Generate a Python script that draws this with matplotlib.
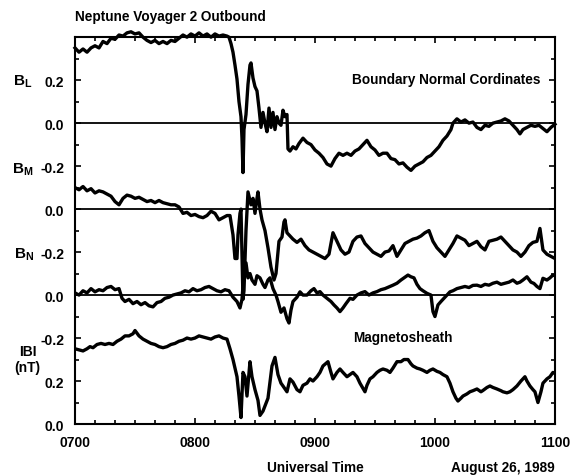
import numpy as np
import matplotlib.pyplot as plt
from matplotlib.ticker import MultipleLocator, FixedLocator

plt.rcParams['font.family'] = 'Liberation Sans'
plt.rcParams['font.weight'] = 'bold'
plt.rcParams['mathtext.fontset'] = 'custom'
plt.rcParams['mathtext.rm'] = 'Liberation Sans:bold'
plt.rcParams['mathtext.bf'] = 'Liberation Sans:bold'

# minutes after 0700 UT, values in nT
bl_min = [0, 2, 4, 6, 8, 10, 12, 14, 16, 18, 20, 22, 24, 26, 28, 30, 32, 34, 36, 38,
          40, 42, 44, 46, 48, 50, 52, 54, 56, 58, 60, 62, 64, 66, 68, 70, 72, 74, 76, 77,
          78, 79, 80, 81, 82, 83, 83.5, 84, 84.5, 85.5, 86.5, 87.5, 88, 89, 90, 91, 92, 93, 94, 95,
          96, 97, 98, 99, 100, 101, 102, 103, 104, 105, 106, 106.5, 107.5, 109, 110.5, 112, 114, 116, 118, 120,
          122, 124, 126, 128, 130, 132, 134, 136, 138, 140, 142, 144, 146, 148, 150, 152, 154, 156, 158, 160,
          162, 164, 166, 168, 170, 172, 174, 176, 178, 180, 182, 184, 186, 188, 189, 191, 193, 195, 197, 199,
          201, 203, 205, 207, 209, 211, 213, 215, 217, 219, 221, 222.5, 224, 226, 228, 230, 232, 234, 236, 238, 240]
bl_val = [0.35, 0.33, 0.345, 0.33, 0.35, 0.36, 0.35, 0.38, 0.37, 0.395, 0.39, 0.41, 0.405, 0.42, 0.425, 0.415, 0.42, 0.40, 0.385, 0.375,
          0.385, 0.37, 0.38, 0.37, 0.385, 0.38, 0.395, 0.41, 0.40, 0.415, 0.405, 0.42, 0.405, 0.415, 0.40, 0.415, 0.405, 0.41, 0.405, 0.40,
          0.37, 0.33, 0.27, 0.205, 0.10, 0.03, -0.07, -0.23, -0.03, 0.04, 0.18, 0.27, 0.28, 0.21, 0.17, 0.15, 0.07, -0.02, 0.05, 0.0,
          -0.04, 0.07, -0.02, 0.05, -0.03, 0.03, 0.0, -0.01, 0.06, 0.03, 0.04, -0.12, -0.13, -0.11, -0.12, -0.095, -0.07, -0.09, -0.10, -0.125,
          -0.14, -0.16, -0.19, -0.20, -0.165, -0.14, -0.15, -0.14, -0.15, -0.13, -0.12, -0.10, -0.08, -0.11, -0.125, -0.15, -0.14, -0.14, -0.165, -0.17,
          -0.19, -0.185, -0.205, -0.22, -0.20, -0.19, -0.18, -0.16, -0.15, -0.13, -0.11, -0.08, -0.06, -0.03, 0.0, 0.02, 0.005, 0.015, 0.0, 0.005,
          -0.02, -0.03, -0.01, -0.015, 0.0, 0.005, 0.01, 0.02, 0.01, -0.01, -0.03, -0.05, -0.03, -0.02, -0.01, -0.015, -0.01, -0.025, -0.04, -0.02, -0.005]

bm_min = [0, 2, 4, 6, 8, 10, 12, 14, 16, 18, 20, 22, 24, 26, 28, 30, 32, 34, 36, 38,
          40, 42, 44, 46, 48, 50, 52, 54, 56, 58, 60, 62, 64, 66, 68, 70, 72, 74, 76, 77.5,
          79, 80, 81, 81.5, 82.5, 83, 83.5, 84, 84.5, 85.5, 86.5, 87, 88, 89, 90, 91, 91.5, 92.5, 93.5, 95,
          96.5, 98, 99.5, 100.5, 102, 103.5, 104.5, 105, 106, 107.5, 109, 111, 113, 115, 117, 119, 121, 123, 125, 127,
          129, 131, 133, 135, 137, 139, 141, 143, 145, 147, 149, 151, 153, 155, 157, 159, 161, 163, 165, 167,
          169, 171, 173, 175, 177, 179, 181, 183, 185, 187, 189, 191, 193, 195, 197, 199, 201, 203, 205, 207,
          209, 211, 213, 215, 217, 219, 221, 223, 225, 227, 229, 231, 232.5, 234, 236, 238, 240]
bm_val = [0.10, 0.09, 0.105, 0.085, 0.095, 0.075, 0.085, 0.08, 0.07, 0.06, 0.035, 0.02, 0.05, 0.065, 0.06, 0.05, 0.055, 0.045, 0.035, 0.04,
          0.03, 0.04, 0.03, 0.025, 0.02, 0.02, 0.01, -0.02, -0.015, -0.03, -0.025, -0.035, -0.04, -0.03, -0.01, -0.02, -0.05, -0.04, -0.03, -0.03,
          -0.12, -0.23, -0.23, -0.12, -0.02, 0.0, -0.2, -0.42, -0.38, -0.1, 0.08, 0.06, 0.02, 0.05, -0.02, 0.05, 0.08, 0.0, -0.05, -0.1,
          -0.18, -0.27, -0.33, -0.3, -0.15, -0.13, -0.06, -0.05, -0.11, -0.125, -0.14, -0.155, -0.14, -0.17, -0.19, -0.2, -0.21, -0.22, -0.23, -0.21,
          -0.11, -0.15, -0.19, -0.21, -0.2, -0.15, -0.13, -0.125, -0.16, -0.18, -0.2, -0.21, -0.22, -0.2, -0.195, -0.17, -0.22, -0.19, -0.16, -0.15,
          -0.14, -0.135, -0.125, -0.11, -0.10, -0.15, -0.18, -0.2, -0.22, -0.19, -0.16, -0.125, -0.135, -0.145, -0.17, -0.16, -0.15, -0.175, -0.19, -0.15,
          -0.145, -0.14, -0.13, -0.15, -0.17, -0.19, -0.2, -0.22, -0.2, -0.17, -0.155, -0.15, -0.09, -0.19, -0.21, -0.22, -0.23]

bn_min = [0, 2, 4, 6, 8, 10, 12, 14, 16, 18, 20, 22, 23.5, 25, 27, 29, 31, 33, 35, 37,
          39, 41, 43, 45, 47, 49, 51, 53, 55, 57, 59, 61, 63, 65, 67, 69, 71, 73, 75, 77,
          79, 81, 82.5, 83.5, 84.5, 85.5, 86.5, 87.5, 88.5, 90, 91, 92.5, 94, 95, 96.5, 97.5, 99, 100.5, 101.5, 103,
          104.5, 106, 107, 108, 109, 111, 112.5, 114, 116, 118, 119.5, 121, 122.5, 124, 126, 128, 129.5, 131, 132.5, 134,
          135.5, 137.5, 139, 141, 143, 145, 147, 149, 151, 153, 155, 157.5, 159, 161, 163, 164.5, 166.5, 168, 169.5, 171,
          172.5, 174, 176, 178, 179, 180, 181.5, 183, 184.5, 186, 187.5, 189, 191, 193, 195, 197, 199, 201, 203, 205,
          207, 209, 211, 213, 215, 217, 219, 221, 222.5, 224, 226, 228, 229.5, 231, 232.5, 234, 236, 237.5, 239, 240]
bn_val = [0.01, 0.0, 0.02, 0.01, 0.03, 0.015, 0.025, 0.02, 0.035, 0.04, 0.025, 0.03, -0.015, -0.03, -0.02, -0.04, -0.03, -0.045, -0.035, -0.05,
          -0.055, -0.035, -0.03, -0.015, -0.01, 0.0, 0.005, 0.01, 0.02, 0.015, 0.03, 0.02, 0.025, 0.035, 0.04, 0.03, 0.02, 0.015, 0.025, 0.02,
          -0.01, -0.03, -0.06, -0.02, 0.1, 0.15, 0.08, 0.1, 0.07, 0.05, 0.09, 0.08, 0.05, 0.035, 0.07, 0.08, 0.03, 0.0, -0.03, -0.08,
          -0.06, -0.11, -0.13, -0.07, -0.03, -0.01, 0.015, 0.0, 0.0, 0.02, 0.03, 0.01, 0.016, 0.0, -0.015, -0.03, -0.046, -0.06, -0.077, -0.06,
          -0.04, -0.015, -0.02, 0.0, 0.01, 0.016, 0.0, 0.01, 0.016, 0.025, 0.03, 0.04, 0.046, 0.055, 0.07, 0.08, 0.093, 0.085, 0.08, 0.05,
          0.03, 0.02, 0.008, 0.0, -0.077, -0.1, -0.046, -0.03, -0.015, 0.0, 0.015, 0.02, 0.03, 0.035, 0.04, 0.035, 0.045, 0.046, 0.04, 0.05,
          0.046, 0.055, 0.06, 0.05, 0.055, 0.06, 0.07, 0.055, 0.06, 0.07, 0.085, 0.06, 0.054, 0.04, 0.03, 0.078, 0.07, 0.08, 0.093, 0.09]

bt_min = [0, 2, 4, 6, 7.5, 9, 11, 13, 15, 17, 19, 21, 23, 25, 27, 29, 30, 32, 34, 36,
          38, 40, 42, 44, 46, 48, 50, 52, 54, 56, 58, 60, 62, 64, 66, 68, 70, 72, 74, 76,
          77.5, 79, 81, 82, 83, 84, 85, 86, 87.5, 88.5, 90, 91.5, 92.5, 94, 96.5, 98.5, 100, 101.5, 103, 104,
          106, 107.5, 109, 111, 112.5, 114, 116, 117.5, 119, 121, 122.5, 124, 126.5, 128, 129, 131, 132.5, 134, 136, 137.5,
          139, 141, 142.5, 145, 146, 147.5, 149, 151, 152.5, 154, 156, 157.5, 159, 161, 163, 164.5, 166.5, 168, 169, 171,
          172.5, 174, 176, 177.5, 179, 181, 182.5, 184, 186, 187.5, 189, 190.5, 191.5, 193, 194, 196, 197.5, 199, 201, 203,
          204, 206, 207.5, 209, 211, 213, 214, 216, 217.5, 219, 221, 223, 225, 226, 227.5, 229, 230, 231.5, 233, 234,
          236, 237.5, 239, 240]
bt_val = [0.35, 0.345, 0.34, 0.35, 0.36, 0.355, 0.37, 0.375, 0.37, 0.375, 0.37, 0.385, 0.395, 0.41, 0.41, 0.42, 0.435, 0.41, 0.395, 0.385,
          0.375, 0.37, 0.36, 0.355, 0.36, 0.37, 0.375, 0.385, 0.39, 0.40, 0.395, 0.40, 0.41, 0.405, 0.40, 0.395, 0.405, 0.41, 0.40, 0.395,
          0.35, 0.30, 0.22, 0.13, 0.03, 0.24, 0.22, 0.13, 0.29, 0.22, 0.16, 0.11, 0.04, 0.06, 0.12, 0.27, 0.31, 0.23, 0.19, 0.177,
          0.15, 0.21, 0.195, 0.16, 0.15, 0.18, 0.19, 0.21, 0.2, 0.22, 0.24, 0.27, 0.29, 0.24, 0.21, 0.24, 0.256, 0.24, 0.22, 0.23,
          0.24, 0.22, 0.19, 0.15, 0.18, 0.21, 0.22, 0.24, 0.25, 0.256, 0.25, 0.24, 0.26, 0.29, 0.29, 0.30, 0.30, 0.28, 0.27, 0.26,
          0.256, 0.25, 0.24, 0.25, 0.256, 0.245, 0.24, 0.23, 0.22, 0.19, 0.15, 0.12, 0.107, 0.12, 0.13, 0.14, 0.15, 0.155, 0.163, 0.15,
          0.156, 0.17, 0.177, 0.17, 0.163, 0.155, 0.15, 0.145, 0.15, 0.16, 0.177, 0.2, 0.22, 0.2, 0.177, 0.16, 0.15, 0.10, 0.15, 0.19,
          0.21, 0.22, 0.24, 0.235]

# vertical offsets of the stacked panels
offsets = {'BL': 1.4, 'BM': 1.0, 'BN': 0.6, 'BT': 0.0}
ytick_pos = [0.0, 0.2, 0.4, 0.6, 0.8, 1.0, 1.2, 1.4, 1.6]
ytick_lab = ['0.0', '0.2', '-0.2', '0.0', '-0.2', '0.0', '-0.2', '0.0', '0.2']
xtick_pos = [7, 8, 9, 10, 11]
xtick_lab = ['0700', '0800', '0900', '1000', '1100']


def hours(m):
    return 7 + np.array(m) / 60.0


fig = plt.figure(figsize=(5.86, 4.77), dpi=100)
ax = fig.add_axes([0.128, 0.109, 0.819, 0.811])

for y0 in (offsets['BL'], offsets['BM'], offsets['BN']):
    ax.axhline(y0, color='black', lw=1.3)

lw = 2.4
ax.plot(hours(bl_min), np.array(bl_val) + offsets['BL'], color='black', lw=lw, clip_on=False)
ax.plot(hours(bm_min), np.array(bm_val) + offsets['BM'], color='black', lw=lw)
ax.plot(hours(bn_min), np.array(bn_val) + offsets['BN'], color='black', lw=lw)
ax.plot(hours(bt_min), np.array(bt_val) + offsets['BT'], color='black', lw=lw)

ax.set_xlim(7, 11)
ax.set_ylim(0, 1.8)
ax.xaxis.set_major_locator(FixedLocator(xtick_pos))
ax.set_xticklabels(xtick_lab)
ax.xaxis.set_minor_locator(MultipleLocator(1 / 6))
ax.yaxis.set_major_locator(FixedLocator(ytick_pos))
ax.set_yticklabels(ytick_lab)
ax.yaxis.set_minor_locator(MultipleLocator(0.1))
ax.tick_params(which='both', direction='in', top=True, right=True, width=1.2)
ax.tick_params(which='major', length=4, labelsize=10, pad=8)
ax.tick_params(which='minor', length=3)
for s in ax.spines.values():
    s.set_linewidth(1.5)

ax.text(10.88, 1.605, 'Boundary Normal Cordinates', ha='right', va='center', fontsize=9.8)
ax.text(9.32, 0.405, 'Magnetosheath', ha='left', va='center', fontsize=9.8)

W, H = 586.0, 477.0
fig.text(75 / W, 1 - 17 / H, 'Neptune Voyager 2 Outbound', ha='left', va='center', fontsize=9.8)
fig.text(23 / W, 1 - 82 / H, r'$\mathbf{B}_\mathbf{L}$', ha='center', va='center', fontsize=11)
fig.text(23 / W, 1 - 170 / H, r'$\mathbf{B}_\mathbf{M}$', ha='center', va='center', fontsize=11)
fig.text(24 / W, 1 - 255 / H, r'$\mathbf{B}_\mathbf{N}$', ha='center', va='center', fontsize=11)
fig.text(28 / W, 1 - 352 / H, 'IBI', ha='center', va='center', fontsize=10)
fig.text(27 / W, 1 - 368 / H, '(nT)', ha='center', va='center', fontsize=10)
fig.text(315 / W, 1 - 468 / H, 'Universal Time', ha='center', va='center', fontsize=9.8)
fig.text(555 / W, 1 - 468 / H, 'August 26, 1989', ha='right', va='center', fontsize=9.8)

fig.savefig('out.png', dpi=100)
